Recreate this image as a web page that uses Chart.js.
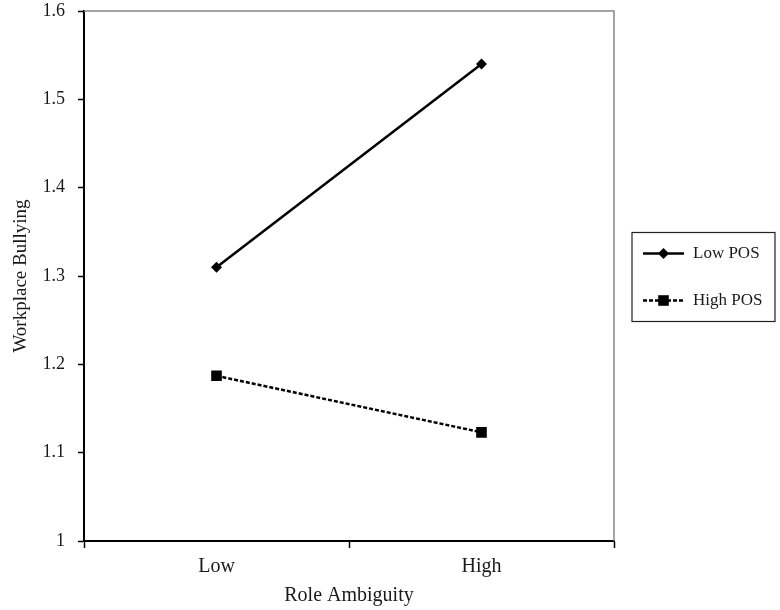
<!DOCTYPE html>
<html>
<head>
<meta charset="utf-8">
<script src="https://cdn.jsdelivr.net/npm/chart.js@4/dist/chart.umd.min.js"></script>
<style>
  html, body { margin: 0; padding: 0; background: #fff; }
  #wrap { width: 780px; height: 610px; }
</style>
</head>
<body>
<div id="wrap"><canvas id="bully-chart"></canvas></div>
<script>
var categories = ['Low', 'High'];
var lowPOS = [1.31, 1.54];
var highPOS = [1.187, 1.123];
var seriesNames = ['Low POS', 'High POS'];

var serif = 'Liberation Serif, Times New Roman, serif';
var textColor = '#1a1a1a';

// legend box and the grey top/right frame, drawn after the chart
var framePlugin = {
  id: 'frameAndLegend',
  afterDraw: function(chart) {
    var ctx = chart.ctx;
    var a = chart.chartArea;
    ctx.save();
    ctx.strokeStyle = '#888';
    ctx.lineWidth = 1.5;
    ctx.beginPath();
    ctx.moveTo(a.left, a.top);
    ctx.lineTo(a.right, a.top);
    ctx.lineTo(a.right, a.bottom);
    ctx.stroke();

    var bx = a.right + 18, bw = 143, bh = 89;
    var by = (a.top + a.bottom) / 2 - bh / 2 + 1;
    ctx.strokeStyle = '#222';
    ctx.lineWidth = 1.2;
    ctx.strokeRect(bx, by, bw, bh);

    chart.data.datasets.forEach(function(ds, i) {
      var y = by + 21 + i * 47;
      var x0 = bx + 11, x1 = bx + 52;
      ctx.strokeStyle = '#000';
      ctx.lineWidth = 2.5;
      ctx.setLineDash(ds.borderDash || []);
      ctx.beginPath();
      ctx.moveTo(x0, y);
      ctx.lineTo(x1, y);
      ctx.stroke();
      ctx.setLineDash([]);
      ctx.fillStyle = '#000';
      Chart.helpers.drawPoint(ctx, {pointStyle: ds.pointStyle, radius: ds.pointRadius, rotation: 0, borderWidth: 0}, (x0 + x1) / 2, y);
      ctx.fillStyle = textColor;
      ctx.font = '17px ' + serif;
      ctx.textBaseline = 'middle';
      ctx.fillText(ds.label, x1 + 9, y);
    });
    ctx.restore();
  }
};

new Chart(document.getElementById('bully-chart'), {
  type: 'line',
  data: {
    labels: categories,
    datasets: [
      {
        label: seriesNames[0],
        data: lowPOS,
        borderColor: '#000',
        backgroundColor: '#000',
        borderWidth: 2.5,
        pointStyle: 'rectRot',
        pointRadius: 5.5,
        pointBorderWidth: 0,
        fill: false
      },
      {
        label: seriesNames[1],
        data: highPOS,
        borderColor: '#000',
        backgroundColor: '#000',
        borderWidth: 2.5,
        borderDash: [4, 2],
        pointStyle: 'rect',
        pointRadius: 7.5,
        pointBorderWidth: 0,
        fill: false
      }
    ]
  },
  options: {
    responsive: true,
    maintainAspectRatio: false,
    animation: false,
    layout: { padding: { top: 11, right: 166, left: 0, bottom: 0 } },
    plugins: {
      legend: { display: false },
      tooltip: { enabled: false }
    },
    scales: {
      x: {
        type: 'category',
        offset: true,
        grid: { offset: true, drawOnChartArea: false, tickLength: 7, tickColor: '#000', tickWidth: 1.5 },
        border: { color: '#000', width: 2 },
        ticks: { color: textColor, font: { family: serif, size: 20 }, padding: 7 },
        title: { display: true, text: 'Role Ambiguity', color: textColor, font: { family: serif, size: 20 }, padding: { top: 0, bottom: 2 } },
        afterFit: function(s) { s.height = 69; s.paddingTop = 0; s.paddingBottom = 0; }
      },
      y: {
        min: 1,
        max: 1.6,
        grid: { drawOnChartArea: false, tickLength: 6, tickColor: '#000', tickWidth: 1.5 },
        border: { color: '#000', width: 2 },
        ticks: {
          stepSize: 0.1,
          color: textColor,
          font: { family: serif, size: 18 },
          padding: 13,
          callback: function(v) { return String(Math.round(v * 10) / 10); }
        },
        title: { display: true, text: 'Workplace Bullying', color: textColor, font: { family: serif, size: 19 }, padding: { top: 10, bottom: 0 } },
        afterFit: function(s) { s.width = 84; s.paddingTop = 0; s.paddingBottom = 0; }
      }
    }
  },
  plugins: [framePlugin]
});
</script>
</body>
</html>
